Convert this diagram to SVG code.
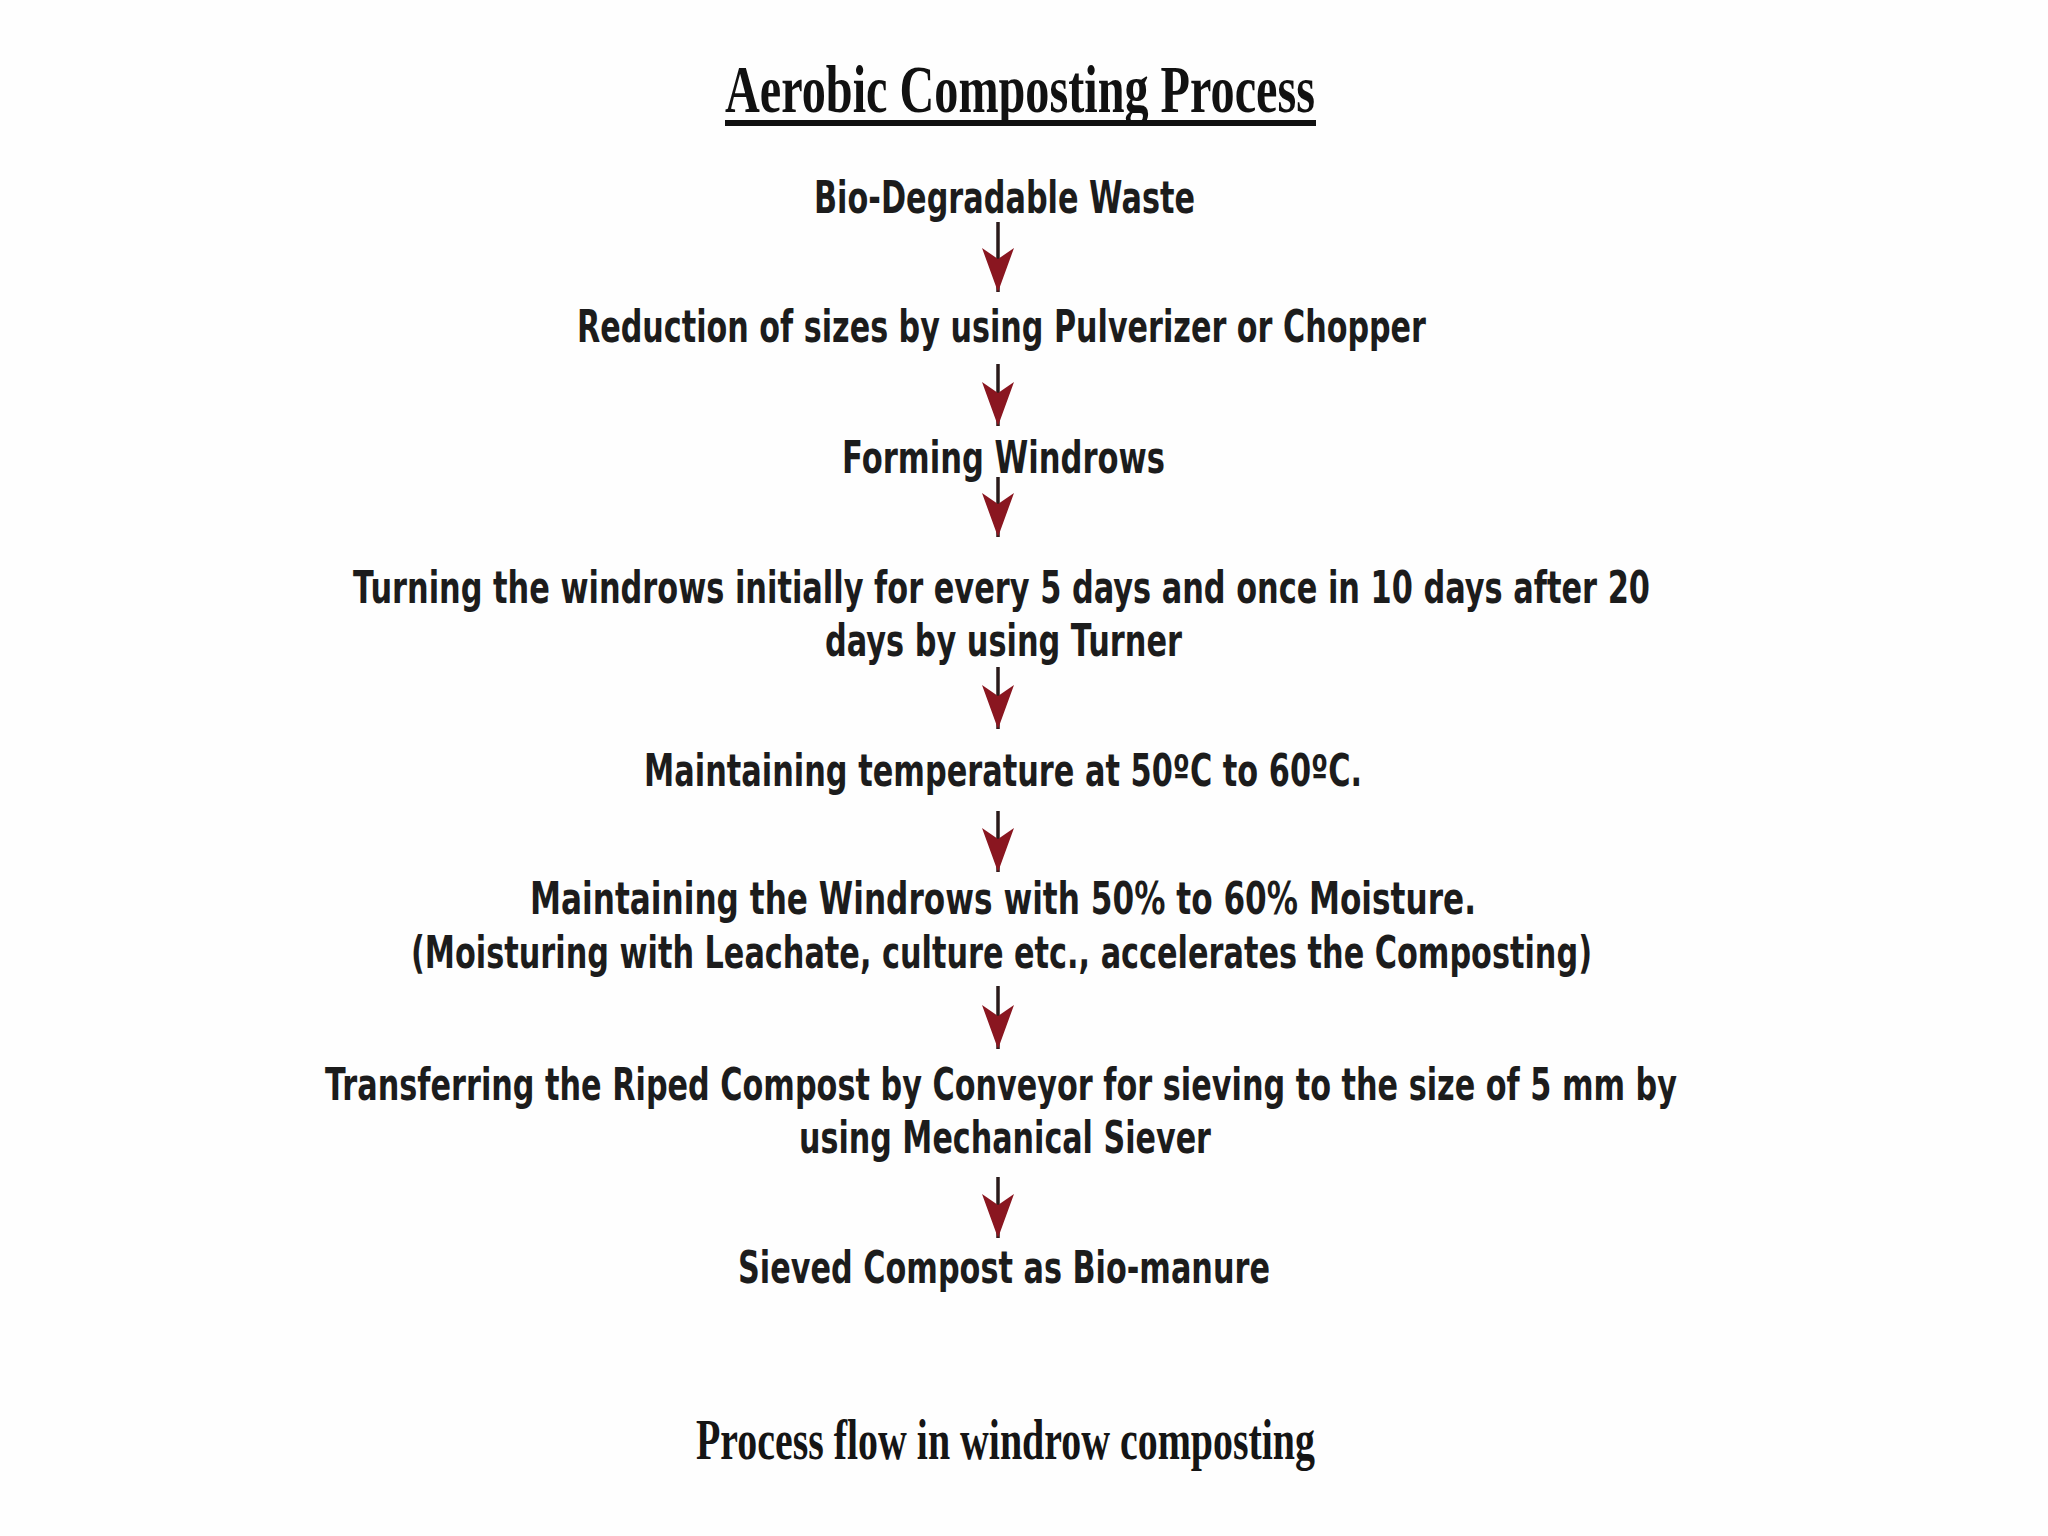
<svg xmlns="http://www.w3.org/2000/svg" width="2048" height="1536" viewBox="0 0 2048 1536">
  <style>
    .bg { fill: #fefefe; }
    .step { font-family: "DejaVu Sans", "Liberation Sans", sans-serif; font-weight: bold; font-size: 44px; fill: #1c1c1c; }
    .steplong { font-family: "DejaVu Sans", "Liberation Sans", sans-serif; font-weight: bold; font-size: 30px; fill: #1c1c1c; }
    .title { font-family: "Liberation Serif", "DejaVu Serif", serif; font-weight: bold; font-size: 68px; fill: #111111; }
    .caption { font-family: "Liberation Serif", "DejaVu Serif", serif; font-weight: bold; font-size: 56px; fill: #151515; }
    .shaft { stroke: #2a1a1a; stroke-width: 3.5; fill: none; }
  </style>
  <defs>
    <marker id="head" markerUnits="userSpaceOnUse" viewBox="0 0 32 44" refX="16" refY="44" markerWidth="32" markerHeight="44" orient="0">
      <path d="M0,0 L16,11 L32,0 L16,44 Z" fill="#8a1620"/>
    </marker>
  </defs>
  <rect class="bg" x="0" y="0" width="2048" height="1536"/>

  <g id="title">
    <text class="title" x="725" y="112" textLength="590" lengthAdjust="spacingAndGlyphs">Aerobic Composting Process</text>
    <rect x="725" y="120" width="591" height="6" fill="#111111"/>
  </g>

  <g id="n1"><text class="step" x="814" y="213" textLength="381" lengthAdjust="spacingAndGlyphs">Bio-Degradable Waste</text></g>
  <g id="n2"><text class="step" x="577" y="342" textLength="849" lengthAdjust="spacingAndGlyphs">Reduction of sizes by using Pulverizer or Chopper</text></g>
  <g id="n3"><text class="step" x="842" y="473" textLength="323" lengthAdjust="spacingAndGlyphs">Forming Windrows</text></g>
  <g id="n4">
    <text class="steplong" transform="translate(353,603) scale(1,1.4667)" x="0" y="0" textLength="1297" lengthAdjust="spacingAndGlyphs">Turning the windrows initially for every 5 days and once in 10 days after 20</text>
    <text class="step" x="825" y="656" textLength="357" lengthAdjust="spacingAndGlyphs">days by using Turner</text>
  </g>
  <g id="n5"><text class="step" x="644" y="786" textLength="718" lengthAdjust="spacingAndGlyphs">Maintaining temperature at 50ºC to 60ºC.</text></g>
  <g id="n6">
    <text class="step" x="530" y="914" textLength="946" lengthAdjust="spacingAndGlyphs">Maintaining the Windrows with 50% to 60% Moisture.</text>
    <text class="steplong" transform="translate(411,968) scale(1,1.4667)" x="0" y="0" textLength="1181" lengthAdjust="spacingAndGlyphs">(Moisturing with Leachate, culture etc., accelerates the Composting)</text>
  </g>
  <g id="n7">
    <text class="steplong" transform="translate(325,1100) scale(1,1.4667)" x="0" y="0" textLength="1352" lengthAdjust="spacingAndGlyphs">Transferring the Riped Compost by Conveyor for sieving to the size of 5 mm by</text>
    <text class="step" x="799" y="1153" textLength="412" lengthAdjust="spacingAndGlyphs">using Mechanical Siever</text>
  </g>
  <g id="n8"><text class="step" x="738" y="1283" textLength="532" lengthAdjust="spacingAndGlyphs">Sieved Compost as Bio-manure</text></g>

  <g id="connectors">
    <line class="shaft" x1="998" y1="222" x2="998" y2="292" marker-end="url(#head)"/>
    <line class="shaft" x1="998" y1="364" x2="998" y2="426" marker-end="url(#head)"/>
    <line class="shaft" x1="998" y1="477" x2="998" y2="537" marker-end="url(#head)"/>
    <line class="shaft" x1="998" y1="667" x2="998" y2="729" marker-end="url(#head)"/>
    <line class="shaft" x1="998" y1="811" x2="998" y2="872" marker-end="url(#head)"/>
    <line class="shaft" x1="998" y1="986" x2="998" y2="1049" marker-end="url(#head)"/>
    <line class="shaft" x1="998" y1="1177" x2="998" y2="1238" marker-end="url(#head)"/>
  </g>

  <g id="caption">
    <text class="caption" x="696" y="1459" textLength="619" lengthAdjust="spacingAndGlyphs">Process flow in windrow composting</text>
  </g>
</svg>
